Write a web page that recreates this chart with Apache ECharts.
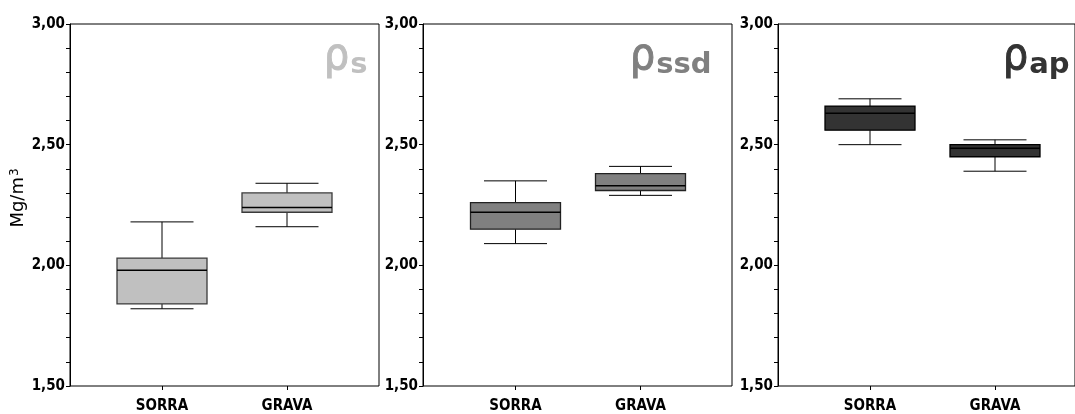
<!DOCTYPE html>
<html>
<head>
<meta charset="utf-8">
<script src="https://cdn.jsdelivr.net/npm/echarts@6/dist/echarts.min.js"></script>
<style>
html,body{margin:0;padding:0;background:#fff;}
#chart{width:1075px;height:414px;}
</style>
</head>
<body>
<div id="chart"></div>
<script>
// ---- data ----
const categories = ['SORRA', 'GRAVA'];
const yTicks = [1.5, 2.0, 2.5, 3.0];
// each entry: [min, Q1, median, Q3, max]
const rhoS   = [[1.82, 1.84, 1.98, 2.03, 2.18], [2.16, 2.22, 2.24, 2.30, 2.34]];
const rhoSsd = [[2.09, 2.15, 2.22, 2.26, 2.35], [2.29, 2.31, 2.33, 2.38, 2.41]];
const rhoAp  = [[2.50, 2.56, 2.63, 2.66, 2.69], [2.39, 2.45, 2.485, 2.50, 2.52]];
const panelLabels = [['ρ', 's'], ['ρ', 'ssd'], ['ρ', 'ap']];
const yNameBase = 'Mg/m', yNameSup = '3';

// ---- layout / style ----
const panels = [
  { data: rhoS,   color: '#c0c0c0', border: '#3a3a3a', left: 70,  innerLeft: 99.5, titleRight: 707 },
  { data: rhoSsd, color: '#808080', border: '#222',    left: 423, innerLeft: 453,  titleRight: 363 },
  { data: rhoAp,  color: '#333333', border: '#000',    left: 778, innerLeft: 807.5, titleRight: 5 }
];
const TOP = 24, H = 362, W = 309, INNER_W = 250;
const FONT = '"DejaVu Sans", Verdana, sans-serif';
const FONT_C = '"DejaVu Sans Condensed", "DejaVu Sans", sans-serif';

const grid = [], xAxis = [], yAxis = [], series = [], title = [];
panels.forEach((p, i) => {
  const og = i * 2, ig = i * 2 + 1;
  grid.push({ left: p.left, top: TOP, width: W, height: H, show: true,
              borderColor: '#000', borderWidth: 1, backgroundColor: 'transparent', containLabel: false });
  grid.push({ left: p.innerLeft, top: TOP, width: INNER_W, height: H, containLabel: false });
  // outer axes
  xAxis.push({ type: 'value', gridIndex: og, min: 0, max: 1, show: false });
  yAxis.push({
    type: 'value', gridIndex: og, min: yTicks[0], max: yTicks[yTicks.length - 1],
    interval: yTicks[1] - yTicks[0],
    name: i === 0 ? '{a|' + yNameBase + '}{b|' + yNameSup + '}' : '',
    nameLocation: 'middle', nameGap: 39,
    nameTextStyle: {
      padding: [0, 0, 0, 14],
      rich: {
        a: { fontFamily: FONT, fontSize: 18, color: '#000' },
        b: { fontFamily: FONT, fontSize: 12, color: '#000', verticalAlign: 'top', padding: [0, 0, 8, 1] }
      }
    },
    axisLine: { show: true, lineStyle: { color: '#000', width: 1 } },
    axisTick: { show: true, inside: false, length: 4, lineStyle: { color: '#000' } },
    minorTick: { show: true, splitNumber: 5, length: 4, lineStyle: { color: '#000' } },
    splitLine: { show: false },
    axisLabel: { margin: 5, fontFamily: FONT_C, fontSize: 15, fontWeight: 'bold', color: '#000',
                 formatter: v => v.toFixed(2).replace('.', ',') }
  });
  // inner axes
  xAxis.push({
    type: 'category', gridIndex: ig, data: categories, boundaryGap: true,
    axisLine: { show: false },
    axisTick: { show: true, alignWithLabel: true, length: 4, lineStyle: { color: '#000' } },
    axisLabel: { margin: 13, fontFamily: FONT_C, fontSize: 15, fontWeight: 'bold', color: '#000' }
  });
  yAxis.push({ type: 'value', gridIndex: ig, min: yTicks[0], max: yTicks[yTicks.length - 1], show: false });

  series.push({
    type: 'custom', xAxisIndex: ig, yAxisIndex: ig,
    data: p.data.map((d, k) => [k].concat(d)),
    encode: { x: 0, y: [1, 2, 3, 4, 5] },
    renderItem: (params, api) => {
      const x = api.value(0);
      const band = api.size([1, 0])[0];
      const bw = band * 0.72, cw = bw * 0.7;
      const pMin = api.coord([x, api.value(1)]);
      const pQ1 = api.coord([x, api.value(2)]);
      const pMed = api.coord([x, api.value(3)]);
      const pQ3 = api.coord([x, api.value(4)]);
      const pMax = api.coord([x, api.value(5)]);
      const cx = pMed[0];
      const ls = { stroke: '#000', lineWidth: 1 };
      return {
        type: 'group',
        children: [
          { type: 'line', shape: { x1: cx, y1: pMax[1], x2: cx, y2: pQ3[1] }, style: ls },
          { type: 'line', shape: { x1: cx, y1: pQ1[1], x2: cx, y2: pMin[1] }, style: ls },
          { type: 'line', shape: { x1: cx - cw / 2, y1: pMax[1], x2: cx + cw / 2, y2: pMax[1] }, style: ls },
          { type: 'line', shape: { x1: cx - cw / 2, y1: pMin[1], x2: cx + cw / 2, y2: pMin[1] }, style: ls },
          { type: 'rect', shape: { x: cx - bw / 2, y: pQ3[1], width: bw, height: pQ1[1] - pQ3[1] },
            style: { fill: p.color, stroke: p.border, lineWidth: 1.3 } },
          { type: 'line', shape: { x1: cx - bw / 2, y1: pMed[1], x2: cx + bw / 2, y2: pMed[1] },
            style: { stroke: '#000', lineWidth: 1.5 } }
        ]
      };
    }
  });

  title.push({
    text: '{r|' + panelLabels[i][0] + '}{s|' + panelLabels[i][1] + '}',
    right: p.titleRight, top: 36, padding: 0,
    textStyle: {
      fontWeight: 'normal',
      rich: {
        r: { fontFamily: FONT_C, fontSize: 44, fontWeight: 'normal', color: p.color, verticalAlign: 'bottom',
             textBorderColor: p.color, textBorderWidth: 1 },
        s: { fontFamily: FONT, fontSize: 29, fontWeight: 'bold', color: p.color, verticalAlign: 'bottom', padding: [0, 0, 0, 1] }
      }
    }
  });
});

const chart = echarts.init(document.getElementById('chart'), null, { renderer: 'canvas' });
chart.setOption({
  animation: false,
  backgroundColor: '#fff',
  title, grid, xAxis, yAxis, series
});
</script>
</body>
</html>
